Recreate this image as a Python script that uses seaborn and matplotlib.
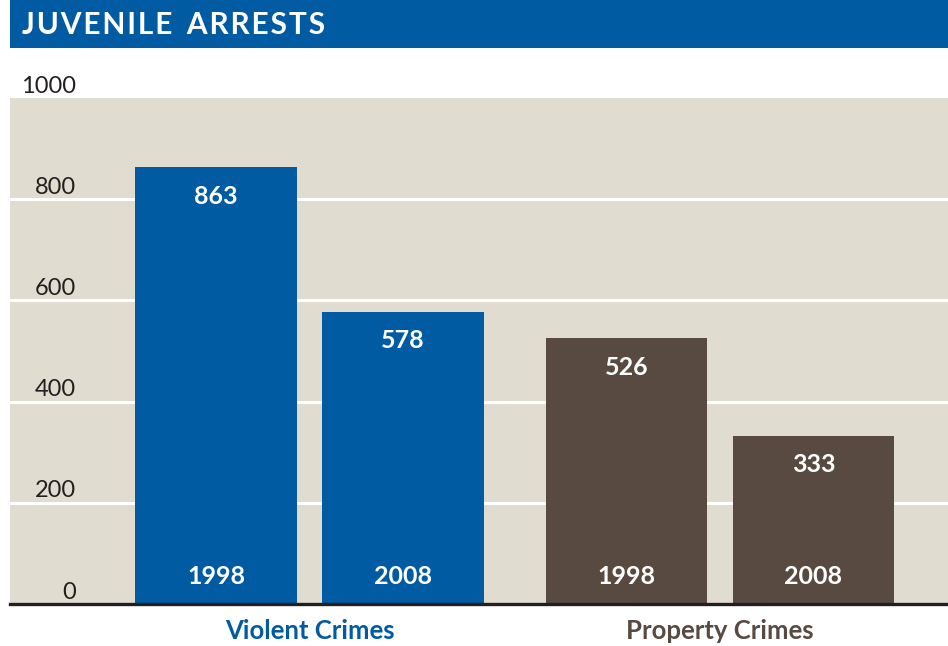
import matplotlib
matplotlib.use("Agg")
import matplotlib.pyplot as plt
from matplotlib.patches import Rectangle
import seaborn as sns
import pandas as pd

# Juvenile arrests by crime type and year
groups = ["Violent Crimes", "Violent Crimes", "Property Crimes", "Property Crimes"]
years = ["1998", "2008", "1998", "2008"]
arrests = [863, 578, 526, 333]
y_ticks = [0, 200, 400, 600, 800, 1000]

group_order = ["Violent Crimes", "Property Crimes"]
year_order = ["1998", "2008"]

BLUE = "#005BA3"
BROWN = "#594A41"
BEIGE = "#E0DCD0"
DARK = "#231F20"
group_colors = {"Violent Crimes": BLUE, "Property Crimes": BROWN}

df = pd.DataFrame({"group": groups, "year": years, "arrests": arrests})

sns.set_theme(style="white")
plt.rcParams["font.family"] = ["Lato", "DejaVu Sans"]

W, H = 948, 646
fig = plt.figure(figsize=(W / 100, H / 100), dpi=100)
fig.patch.set_facecolor("white")

# Plot area in pixel geometry
left, right, top, bottom = 10, 948, 98, 604
ax = fig.add_axes([left / W, 1 - bottom / H, (right - left) / W, (bottom - top) / H])
ax.set_facecolor(BEIGE)

sns.barplot(data=df, x="group", y="arrests", hue="year",
            order=group_order, hue_order=year_order,
            width=0.911, gap=0.134, saturation=1, legend=False,
            errorbar=None, ax=ax, zorder=3)

ax.set_xlim(-0.7296, 1.5554)
ax.set_ylim(0, 1000)

# Recolour each bar by its crime group and label it
for hue_idx, container in enumerate(ax.containers):
    for bar in container:
        cx = bar.get_x() + bar.get_width() / 2
        g = group_order[int(round(cx))]
        bar.set_facecolor(group_colors[g])
        bar.set_edgecolor("none")
        h = bar.get_height()
        ax.annotate(f"{int(round(h))}", (cx, h), xytext=(0, -21),
                    textcoords="offset points", ha="center", va="center",
                    color="white", fontsize=18, fontweight="bold", zorder=5)
        ax.annotate(year_order[hue_idx], (cx, 0), xytext=(0, 19.5),
                    textcoords="offset points", ha="center", va="center",
                    color="white", fontsize=18, fontweight="bold", zorder=5)

# Horizontal gridlines
for t in y_ticks[1:-1]:
    ax.axhline(t, color="white", lw=2.2, zorder=1)

# Y-axis labels sit just above their gridlines
ax.set_yticks([])
ax.set_xticks([])
ax.set_xlabel("")
ax.set_ylabel("")
ytrans = ax.get_yaxis_transform()
for t in y_ticks:
    ax.annotate(str(t), (0.07, t), xycoords=ytrans, xytext=(0, 1),
                textcoords="offset points", ha="right", va="bottom",
                color=DARK, fontsize=17, annotation_clip=False)

for s in ["top", "left", "right"]:
    ax.spines[s].set_visible(False)
ax.spines["bottom"].set_color(DARK)
ax.spines["bottom"].set_linewidth(2.4)
ax.spines["bottom"].set_zorder(6)

# Group labels under the axis
for i, g in enumerate(group_order):
    ax.annotate(g, (i, 0), xycoords=("data", "data"), xytext=(0, -19.5),
                textcoords="offset points", ha="center", va="center",
                color=group_colors[g], fontsize=18.5, fontweight="bold",
                annotation_clip=False)

# Title banner
fig.patches.append(Rectangle((left / W, 1 - 48 / H), (right - left) / W, 48 / H,
                             transform=fig.transFigure, facecolor=BLUE,
                             edgecolor="none", zorder=0))
fig.text(22 / W, 1 - 25 / H, "J\u200aU\u200aV\u200aE\u200aN\u200aI\u200aL\u200aE  A\u200aR\u200aR\u200aE\u200aS\u200aT\u200aS",
         color="white", fontsize=21.5, fontweight="bold", ha="left", va="center")

fig.savefig("out.png", dpi=100, facecolor="white")
